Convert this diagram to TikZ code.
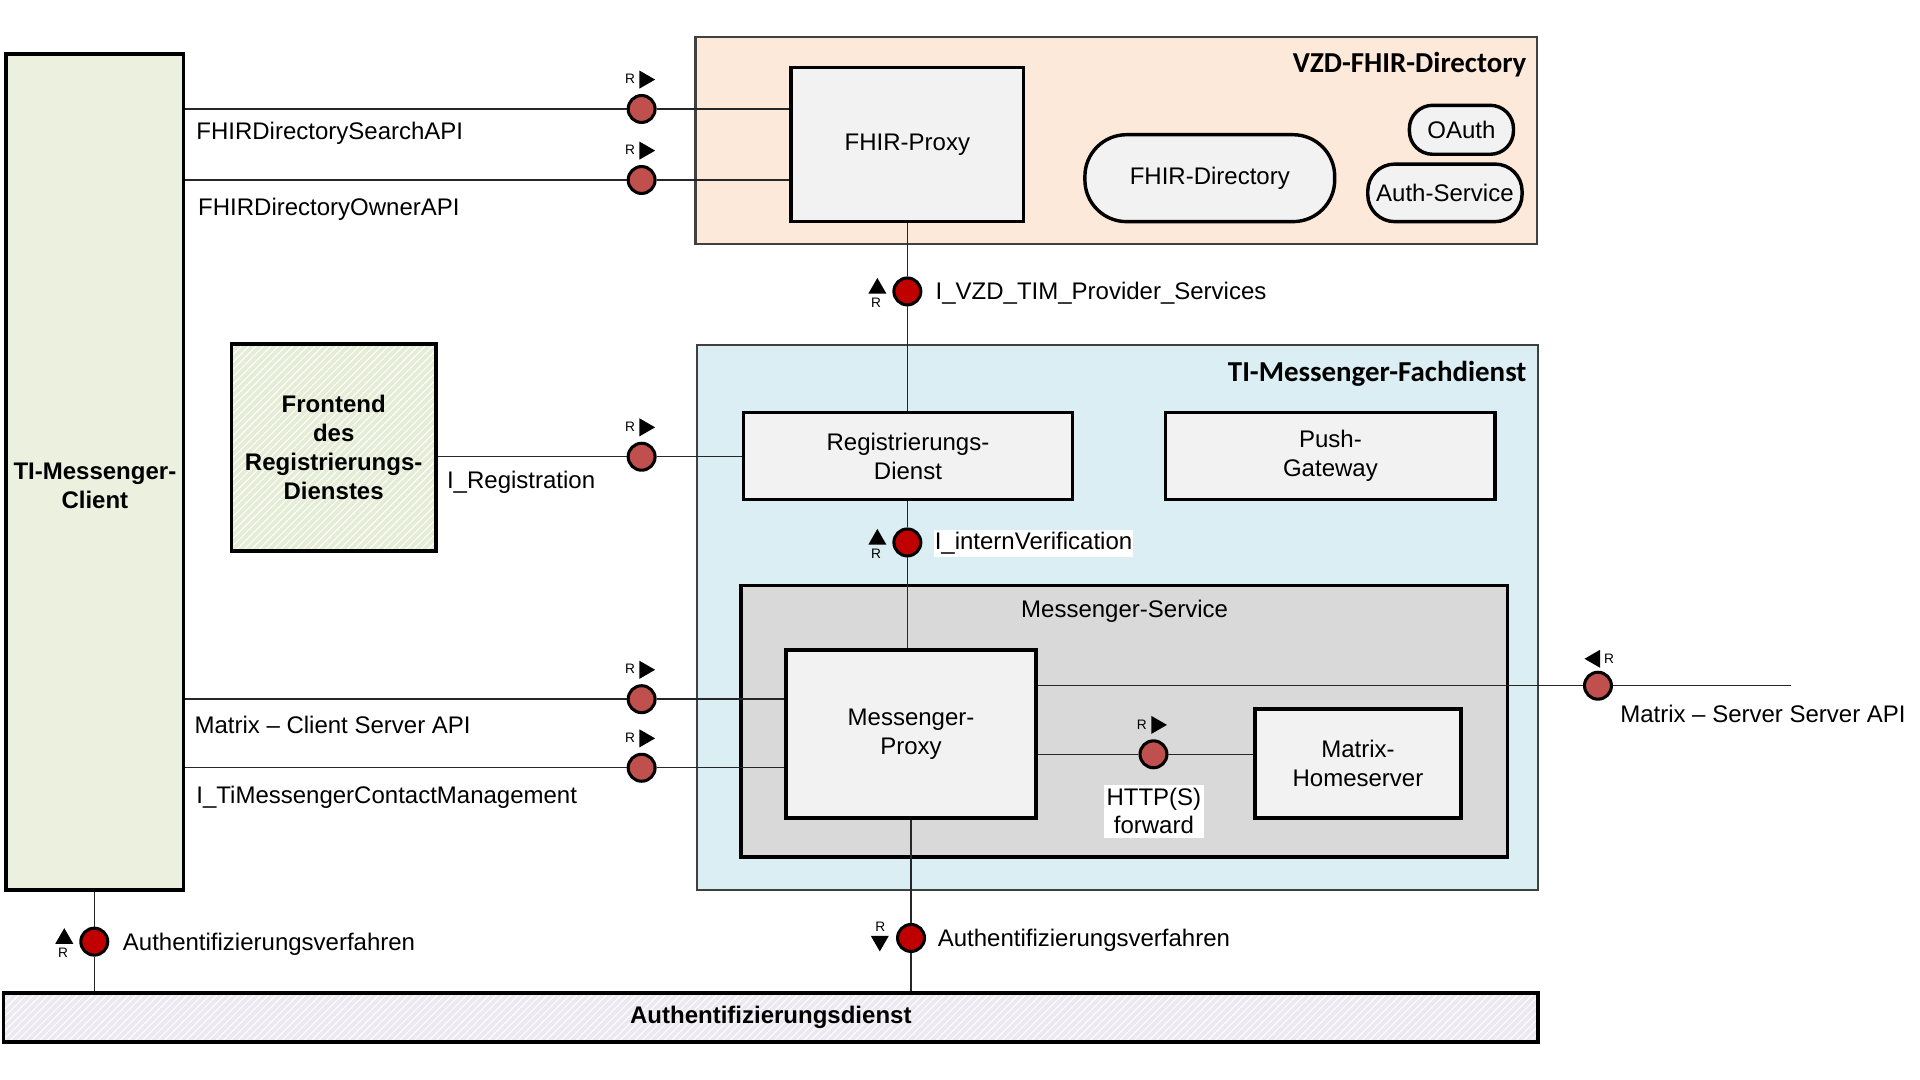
\documentclass[tikz,border=0pt]{standalone}
\usepackage{fontspec}
\setmainfont{Liberation Sans}
\newfontfamily\carlito{Carlito}
\usetikzlibrary{positioning,shapes.geometric,patterns}
\definecolor{clientgreen}{HTML}{EBF1DE}
\definecolor{frontgreen}{HTML}{E6EDD6}
\definecolor{vzdorange}{HTML}{FDE9D9}
\definecolor{fachblue}{HTML}{DAEEF3}
\definecolor{boxgray}{HTML}{F2F2F2}
\definecolor{svcgray}{HTML}{D9D9D9}
\definecolor{authlav}{HTML}{ECE9F1}
\definecolor{ballred}{HTML}{C0504D}
\definecolor{darkred}{HTML}{C00000}
\begin{document}
\fontsize{9.8}{11.9}\selectfont
\begin{tikzpicture}[x=0.5pt,y=-0.5pt,
    boxframe/.style={draw, line width=1.4pt, align=center, inner sep=0pt},
    box/.style={boxframe, fill=boxgray},
    pill/.style={box, rounded corners=#1},
    hatch/.style={preaction={fill=#1}, pattern=north east lines, pattern color=white},
    group/.style={draw=black!75, line width=0.9pt, inner sep=0pt},
    ball/.style={circle, draw, line width=1.25pt, fill=ballred, minimum size=11pt, inner sep=0pt},
    dball/.style={ball, fill=darkred},
    lbl/.style={inner sep=0pt, anchor=base west},
    title/.style={inner sep=0pt, anchor=base east, font=\carlito\bfseries\fontsize{11.8}{14}\selectfont},
    rm/.style={inner sep=0pt, font=\fontsize{5.6}{6}\selectfont},
    tri/.style={regular polygon, regular polygon sides=3, fill, inner sep=0pt, minimum size=8.5pt},
    link/.style={line width=0.6pt, draw=black!85}]
    \useasboundingbox (0,0) rectangle (1568,882);

    \node(vzd) [group, fill=vzdorange, minimum width=343.5pt, minimum height=84.5pt] at (911.5,114.5) {};
    \node(vzdt) [title] at (1247,59.5) {VZD-FHIR-Directory};
    \node(fach) [group, fill=fachblue, minimum width=343.5pt, minimum height=222.5pt] at (912.5,504.5) {};
    \node(facht) [title] at (1247,311.5) {TI-Messenger-Fachdienst};
    \node(msvc) [box, fill=svcgray, minimum width=313pt, minimum height=111pt] at (918,589) {};
    \node(msvct) [inner sep=0pt, anchor=base] at (918.4,504) {Messenger-Service};

    \node(client) [box, fill=clientgreen, minimum width=72.5pt, minimum height=341.5pt] at (77.5,385.5) {};
    \node(clientt) [align=center, font=\bfseries] at (77.5,396.5) {TI-Messenger-\\Client};
    \node(front) [boxframe, hatch=frontgreen, font=\bfseries, minimum width=83.5pt, minimum height=84.5pt] at (272.5,365.5) {Frontend\\des\\Registrierungs-\\Dienstes};
    \node(authd) [boxframe, hatch=authlav, font=\bfseries, minimum width=626.5pt, minimum height=20pt] at (629.5,831) {Authentifizierungsdienst};

    \node(fproxy) [box, minimum width=95pt, minimum height=63pt] at (741,118) {FHIR-Proxy};
    \node(fdir) [pill=17pt, minimum width=102pt, minimum height=35.5pt] at (988,145.5) {FHIR-Directory};
    \node(oauth) [pill=9.5pt, minimum width=42.5pt, minimum height=20pt] at (1193.5,106) {OAuth};
    \node(authsvc) [pill=11pt, minimum width=63pt, minimum height=23.5pt] at (1180,157.5) {Auth-Service};
    \node(regd) [box, minimum width=134.5pt, minimum height=35.5pt] at (741.5,372.5) {Registrierungs-\\Dienst};
    \node(push) [box, minimum width=134.5pt, minimum height=35.5pt] at (1086.5,372.5) {Push-\\Gateway};
    \node(mproxy) [box, minimum width=102pt, minimum height=68.5pt] at (744,599.5) {Messenger-\\Proxy};
    \node(mhome) [box, minimum width=84pt, minimum height=44.5pt] at (1109,623.5) {Matrix-\\Homeserver};

    \node(c1) [ball] at (524,89) {};
    \node(c2) [ball] at (524,147) {};
    \node(c3) [ball] at (524,373) {};
    \node(c4) [ball] at (524,571) {};
    \node(c5) [ball] at (524,627) {};
    \node(c6) [ball] at (942,616) {};
    \node(c7) [ball] at (1305,560) {};
    \node(d1) [dball] at (741,238) {};
    \node(d2) [dball] at (741,443) {};
    \node(d3) [dball] at (77,769) {};
    \node(d4) [dball] at (744,766) {};
    \coordinate(s2s) at (1463,560);

    \draw[link] (client.east |- c1) -- (c1) -- (c1 -| fproxy.west);
    \draw[link] (client.east |- c2) -- (c2) -- (c2 -| fproxy.west);
    \draw[link] (front.east |- c3) -- (c3) -- (c3 -| regd.west);
    \draw[link] (client.east |- c4) -- (c4) -- (c4 -| mproxy.west);
    \draw[link] (client.east |- c5) -- (c5) -- (c5 -| mproxy.west);
    \draw[link] (mproxy.east |- c6) -- (c6) -- (c6 -| mhome.west);
    \draw[link] (mproxy.east |- c7) -- (c7) -- (s2s);
    \draw[link] (fproxy.south -| d1) -- (d1) -- (d1 |- regd.north);
    \draw[link] (regd.south -| d2) -- (d2) -- (d2 |- mproxy.north);
    \draw[link] (client.south -| d3) -- (d3) -- (d3 |- authd.north);
    \draw[link] (mproxy.south -| d4) -- (d4) -- (d4 |- authd.north);

    \foreach \c in {c1,c2,c3,c4,c5,c6} {
        \node(\c r) [rm] at ([shift={(-9.5,-24.5)}]\c) {R};
        \node(\c t) [tri, rotate=-90] at ([shift={(2.5,-24)}]\c) {};
    }
    \foreach \c in {d1,d2,d3} {
        \node(\c t) [tri] at ([shift={(-24.5,-2.5)}]\c) {};
        \node(\c r) [rm] at ([shift={(-25.5,9)}]\c) {R};
    }
    \node(d4r) [rm] at ([shift={(-25,-9.5)}]d4) {R};
    \node(d4t) [tri, rotate=180] at ([shift={(-25.5,2.5)}]d4) {};
    \node(c7t) [tri, rotate=90] at ([shift={(-2.5,-22)}]c7) {};
    \node(c7r) [rm] at ([shift={(9,-22)}]c7) {R};

    \node(lsearch) [lbl] at (160,113.8) {FHIRDirectorySearchAPI};
    \node(lowner) [lbl] at (161.5,175.6) {FHIRDirectoryOwnerAPI};
    \node(lreg) [lbl] at (364.7,398.8) {I\_Registration};
    \node(lcs) [lbl] at (158.5,599) {Matrix – Client Server API};
    \node(lcm) [lbl] at (160,656) {I\_TiMessengerContactManagement};
    \node(lss) [lbl] at (1322.8,590) {Matrix – Server Server API};
    \node(lvzd) [lbl] at (763.7,245) {I\_VZD\_TIM\_Provider\_Services};
    \node(lint) [lbl, fill=white, inner xsep=0.5pt, inner ysep=1pt] at (762,449) {I\_internVerification};
    \node(lhttp) [fill=white, align=center, inner xsep=1pt, inner ysep=1.5pt, font=\fontsize{9.8}{11.4}\selectfont] at (942.3,662.4) {HTTP(S)\\forward};
    \node(lauth1) [lbl] at (100,776) {Authentifizierungsverfahren};
    \node(lauth2) [lbl] at (765.5,773) {Authentifizierungsverfahren};
\end{tikzpicture}
\end{document}
